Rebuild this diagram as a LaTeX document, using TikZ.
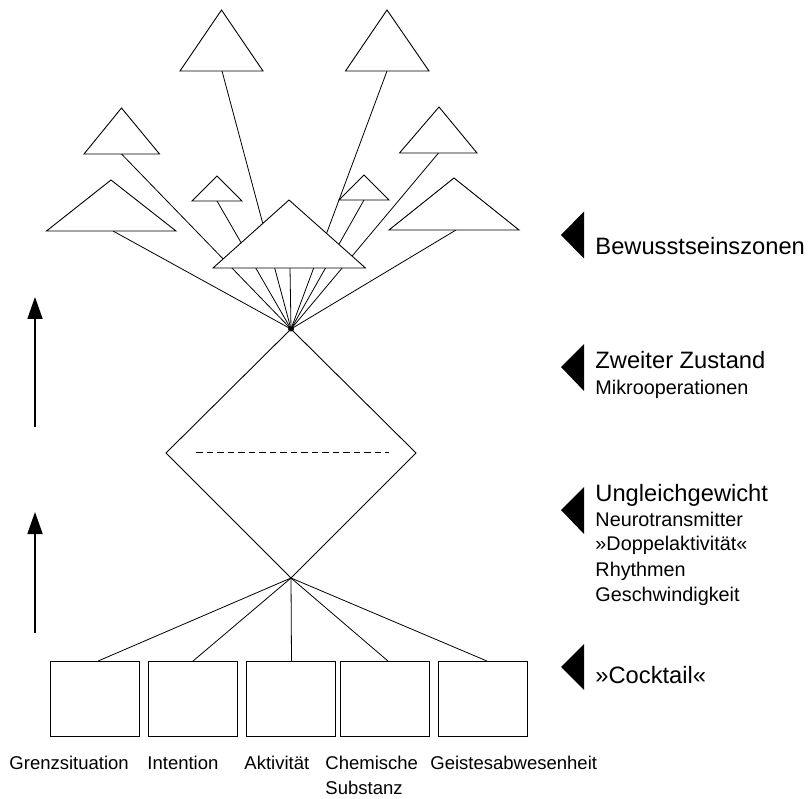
\documentclass[tikz,border=0pt]{standalone}
\usepackage{fontspec}
\setmainfont{Liberation Sans}
\usetikzlibrary{arrows.meta}
\begin{document}
\begin{tikzpicture}[x=1pt,y=-1pt, line width=0.9pt,
  tri/.style={draw, fill=white, line join=miter},
  link/.style={draw, line width=0.8pt},
  boxnode/.style={draw, minimum width=89pt, minimum height=75pt, inner sep=0pt},
  marker/.style={fill=black},
  head/.style={font=\fontsize{23.7}{28}\selectfont, anchor=base west, inner sep=0pt},
  subtxt/.style={font=\fontsize{19.8}{25}\selectfont, anchor=base west, inner sep=0pt},
  lab/.style={font=\fontsize{18.5}{24}\selectfont, anchor=base west, inner sep=0pt},
  uparrow/.style={-{Triangle[length=22pt,width=15pt]}, line width=1.8pt}]
\useasboundingbox (0,0) rectangle (809,799);

% convergence points
\coordinate (top) at (291,329);
\coordinate (bot) at (291,578);
\coordinate (dl) at (166,453);
\coordinate (dr) at (416,453);

% base midpoints of the triangles
\coordinate (t1) at (222,71);
\coordinate (t2) at (387,71);
\coordinate (t3) at (121.5,154);
\coordinate (t4) at (438.5,153);
\coordinate (t5) at (217,201);
\coordinate (t6) at (364,200);
\coordinate (t7) at (113,231);
\coordinate (t8) at (456,230);
\coordinate (tc) at (290,268);

% connectors to the upper convergence point
\foreach \t in {t1,t2,t3,t4,t5,t6,t7,t8,tc}
  \draw[link] (\t) -- (top);

% outer triangles
\draw[tri] (221.5,10) -- (263,71) -- (180,71) -- cycle;
\draw[tri] (387,10) -- (429,71) -- (345.5,71) -- cycle;
\draw[tri] (121.5,108) -- (159.5,154) -- (84,154) -- cycle;
\draw[tri] (439,107) -- (477,153) -- (399.5,153) -- cycle;
\draw[tri] (217,176) -- (242,201) -- (192,201) -- cycle;
\draw[tri] (364,175) -- (389,200) -- (339,200) -- cycle;
\draw[tri] (111,180) -- (176,231) -- (46.5,231) -- cycle;
\draw[tri] (454,178) -- (519,230) -- (389,230) -- cycle;
% central triangle
\draw[tri] (289,200) -- (365.5,268) -- (213,268) -- cycle;

\fill (top) ellipse (3pt and 2.5pt);

% diamond
\draw (top) -- (dr) -- (bot) -- (dl) -- cycle;
\coordinate (da) at (196,452.3);
\coordinate (db) at (389,452.3);
\draw[dash pattern=on 6.5pt off 4pt] (da) -- (db);

% boxes
\node[boxnode] (b1) at (95,699) {};
\node[boxnode] (b2) at (193,699) {};
\node[boxnode] (b3) at (290.5,699) {};
\node[boxnode] (b4) at (385,699) {};
\node[boxnode] (b5) at (483,699) {};
\draw[link] (bot) -- ([xshift=3pt]b1.north);
\draw[link] (bot) -- (b2.north);
\draw[link] (bot) -- ([xshift=1pt]b3.north);
\draw[link] (bot) -- ([xshift=3pt]b4.north);
\draw[link] (bot) -- ([xshift=4pt]b5.north);

% labels under boxes
\node[lab] (l1) at (9,769) {Grenzsituation};
\node[lab] (l2) at (147,769) {Intention};
\node[lab] (l3) at (244,769) {Aktivität};
\node[lab] (l4) at (325,769) {Chemische};
\node[lab] (l4b) at (325,794) {Substanz};
\node[lab] (l5) at (430,769) {Geistesabwesenheit};

% left arrows
\coordinate (a1s) at (35,427);
\coordinate (a1e) at (35,297);
\coordinate (a2s) at (35,633);
\coordinate (a2e) at (35,512);
\draw[uparrow] (a1s) -- (a1e);
\draw[uparrow] (a2s) -- (a2e);

% right markers
\fill[marker] (561,235) -- (584,211.5) -- (584,258.5) -- cycle;
\fill[marker] (561,367) -- (584,344) -- (584,391) -- cycle;
\fill[marker] (561,510) -- (584,487) -- (584,534) -- cycle;
\fill[marker] (561,667) -- (584,644) -- (584,690) -- cycle;

% right texts
\node[head] (r1) at (595,255) {Bewusstseinszonen};
\node[head] (r2) at (595,369) {Zweiter Zustand};
\node[subtxt] (r2a) at (595,395) {Mikrooperationen};
\node[head] (r3) at (595,501.5) {Ungleichgewicht};
\node[subtxt] (r3a) at (595,526) {Neurotransmitter};
\node[subtxt] (r3b) at (595,550.5) {»Doppelaktivität«};
\node[subtxt] (r3c) at (595,576.5) {Rhythmen};
\node[subtxt] (r3d) at (595,601.5) {Geschwindigkeit};
\node[head] (r4) at (595,683) {»Cocktail«};
\end{tikzpicture}
\end{document}
